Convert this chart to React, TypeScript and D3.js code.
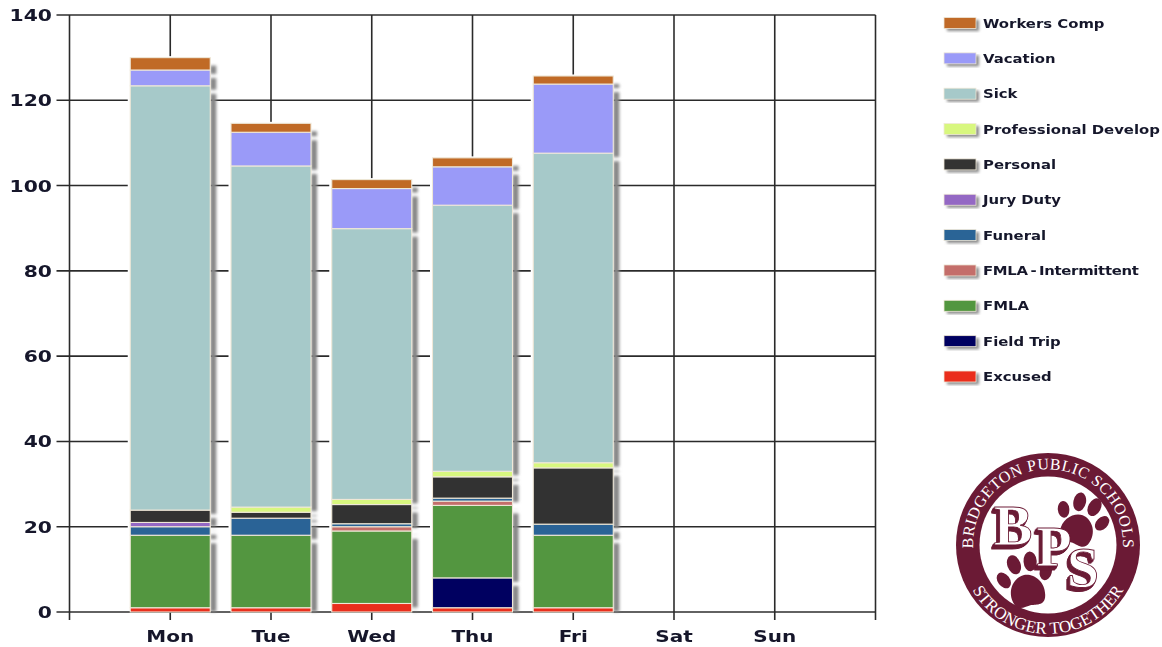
import React, { useEffect, useRef } from 'react';
import * as d3 from 'd3';

const DAYS = ['Mon', 'Tue', 'Wed', 'Thu', 'Fri', 'Sat', 'Sun'];
const Y_TICKS = [0, 20, 40, 60, 80, 100, 120, 140];

// values by day, Mon..Fri, bottom of the stack first
const EXCUSED = [1, 1, 2, 1, 1];
const FIELD_TRIP = [0, 0, 0, 7, 0];
const FMLA = [17, 17, 17, 17, 17];
const FMLA_INT = [0, 0, 1, 1, 0];
const FUNERAL = [2, 4, 0.7, 0.7, 2.6];
const JURY = [1, 0, 0, 0, 0];
const PERSONAL = [2.9, 1.4, 4.5, 5, 13.2];
const PROF_DEV = [0, 1.2, 1.2, 1.3, 1.2];
const SICK = [99.5, 80, 63.5, 62.4, 72.6];
const VACATION = [3.7, 7.9, 9.4, 9, 16.2];
const WORKERS_COMP = [2.9, 2.1, 2.1, 2.1, 1.9];

const SERIES = ['Excused', 'Field Trip', 'FMLA', 'FMLA - Intermittent', 'Funeral', 'Jury Duty', 'Personal', 'Professional Develop', 'Sick', 'Vacation', 'Workers Comp'];
const VALUES = [EXCUSED, FIELD_TRIP, FMLA, FMLA_INT, FUNERAL, JURY, PERSONAL, PROF_DEV, SICK, VACATION, WORKERS_COMP];
const COLORS = ['#EA2E1C', '#000060', '#52963F', '#C46E6A', '#2A6496', '#9468C4', '#333333', '#D8F77F', '#A6C9C9', '#9A9AF8', '#C06A28'];

const LEFT = 69.5;
const RIGHT = 875.5;
const TOP = 15;
const BOTTOM = 612;
const BAR_W = 80;
const MAROON = '#6B1A35';
const TEXT = '#15182c';
const FONT = '"DejaVu Sans", sans-serif';

const App = () => {
    const ref = useRef<SVGSVGElement>(null);

    useEffect(() => {
        const svg = d3.select(ref.current);
        svg.selectAll('*').remove();

        const defs = svg.append('defs');
        defs.append('filter').attr('id', 'shadow').attr('x', '-60%').attr('width', '220%')
            .append('feGaussianBlur').attr('stdDeviation', 1.7);
        defs.append('filter').attr('id', 'soft')
            .append('feGaussianBlur').attr('stdDeviation', 0.35);

        // block letter extrusion for the logo, one text per letter
        const extrude = defs.append('filter').attr('id', 'extrude')
            .attr('x', '-30%').attr('y', '-30%').attr('width', '160%').attr('height', '160%');
        extrude.append('feFlood').attr('flood-color', MAROON).attr('result', 'ink');
        const depths = [1, 2, 3, 4, 5];
        depths.forEach((o) => {
            extrude.append('feOffset').attr('in', 'SourceAlpha').attr('dx', -o * 0.6).attr('dy', o * 0.8).attr('result', 'off' + o);
            extrude.append('feComposite').attr('in', 'ink').attr('in2', 'off' + o).attr('operator', 'in').attr('result', 'side' + o);
        });
        const merge = extrude.append('feMerge');
        depths.forEach((o) => merge.append('feMergeNode').attr('in', 'side' + o));
        merge.append('feMergeNode').attr('in', 'SourceGraphic');

        const xScale = d3.scaleLinear().domain([0, 8]).range([LEFT, RIGHT]);
        const yScale = d3.scaleLinear().domain([0, 140]).range([BOTTOM, TOP]);

        const rows = DAYS.slice(0, 5).map((day, i) => {
            const row: any = { day: i + 1 };
            SERIES.forEach((s, k) => { row[s] = VALUES[k][i]; });
            return row;
        });
        const stacked = d3.stack().keys(SERIES)(rows);
        const topLayer: any = stacked[stacked.length - 1];

        // grid + axes
        const grid = svg.append('g').attr('filter', 'url(#soft)');
        const xAxis = d3.axisBottom(xScale)
            .offset(0)
            .tickValues(d3.range(0, 9))
            .tickSize(BOTTOM - TOP + 8)
            .tickFormat(() => '');
        const xG = grid.append('g')
            .attr('transform', 'translate(0,' + TOP + ')')
            .call(xAxis as any);
        const yAxis = d3.axisLeft(yScale)
            .offset(0)
            .tickValues(Y_TICKS)
            .tickSize(RIGHT - LEFT + 13)
            .tickFormat(() => '');
        const yG = grid.append('g')
            .attr('transform', 'translate(' + RIGHT + ',0)')
            .call(yAxis as any);
        [xG, yG].forEach((g) => {
            g.select('.domain').remove();
            g.selectAll('line').attr('stroke', '#2b2b2b').attr('stroke-width', 1.6);
        });

        // the grid stops a little short of each bar
        svg.append('g').selectAll('rect')
            .data(topLayer)
            .enter().append('rect')
            .attr('x', (d: any) => xScale(d.data.day) - BAR_W / 2 - 2.5)
            .attr('y', (d: any) => yScale(d[1]) - 1.5)
            .attr('width', BAR_W + 2.5)
            .attr('height', (d: any) => BOTTOM - 1 - yScale(d[1]) + 1.5)
            .attr('fill', '#fff');

        // segment shadows
        const shadows = svg.append('g').attr('filter', 'url(#shadow)');
        stacked.forEach((layer: any) => {
            layer.forEach((d: any) => {
                if (d[1] - d[0] <= 0) return;
                const top = yScale(d[1]) + 8;
                const bottom = Math.min(yScale(d[0]) + 4, BOTTOM);
                if (bottom <= top) return;
                shadows.append('rect')
                    .attr('x', xScale(d.data.day) + BAR_W / 2)
                    .attr('y', top)
                    .attr('width', 6)
                    .attr('height', bottom - top)
                    .attr('fill', '#858585');
            });
        });

        // bars
        const bars = svg.append('g').attr('filter', 'url(#soft)');
        stacked.forEach((layer: any, k: number) => {
            bars.append('g').selectAll('rect')
                .data(layer.filter((d: any) => d[1] - d[0] > 0))
                .enter().append('rect')
                .attr('x', (d: any) => xScale(d.data.day) - BAR_W / 2)
                .attr('y', (d: any) => yScale(d[1]))
                .attr('width', BAR_W)
                .attr('height', (d: any) => yScale(d[0]) - yScale(d[1]))
                .attr('fill', COLORS[k])
                .attr('stroke', '#EFE8D8')
                .attr('stroke-width', 1.1);
        });

        // axis labels
        const labels = svg.append('g').attr('filter', 'url(#soft)')
            .style('font-family', FONT).style('font-weight', 'bold').attr('fill', TEXT);
        labels.selectAll('.ylab').data(Y_TICKS).enter().append('text')
            .attr('text-anchor', 'end')
            .attr('transform', (d) => 'translate(52,' + (yScale(d) + 6) + ') scale(1.27,1)')
            .style('font-size', '16px')
            .text((d) => d);
        labels.selectAll('.xlab').data(DAYS).enter().append('text')
            .attr('text-anchor', 'middle')
            .attr('transform', (d, i) => 'translate(' + xScale(i + 1) + ',642) scale(1.25,1)')
            .style('font-size', '16px')
            .text((d) => d);

        // legend, top entry is the last series
        const legendY = d3.scaleLinear().domain([0, 10]).range([23, 376.5]);
        const legend = svg.append('g');
        [...SERIES].reverse().forEach((name, i) => {
            const color = COLORS[SERIES.length - 1 - i];
            const y = legendY(i);
            const tight = name === 'FMLA - Intermittent';
            legend.append('rect').attr('x', 947).attr('y', y - 3).attr('width', 32).attr('height', 11)
                .attr('fill', '#8a8a8a').attr('filter', 'url(#shadow)');
            legend.append('rect').attr('x', 944).attr('y', y - 5.5).attr('width', 32).attr('height', 11)
                .attr('fill', color).attr('stroke', '#EFE8D8').attr('stroke-width', 0.8);
            legend.append('text')
                .attr('transform', 'translate(983,' + (y + 4.5) + ') scale(1.19,1)')
                .attr('filter', 'url(#soft)')
                .attr('fill', TEXT)
                .style('font-family', FONT).style('font-weight', 'bold').style('font-size', '12.5px')
                .style('word-spacing', tight ? '-1.8px' : '0')
                .style('letter-spacing', tight ? '-0.25px' : '0')
                .text(name);
        });

        // logo
        const logo = svg.append('g').attr('transform', 'translate(1048,545)');
        logo.append('circle').attr('r', 92).attr('fill', MAROON);
        logo.append('circle').attr('r', 68.5).attr('fill', '#fff');
        defs.append('path').attr('id', 'arcTop').attr('d', 'M -71.5 22 A 75 75 0 1 1 71.5 22');
        defs.append('path').attr('id', 'arcBottom').attr('d', 'M -83 28 A 87 87 0 0 0 83 28');
        const serif = '"Liberation Serif", serif';
        logo.append('text').attr('fill', '#fff').style('font-family', serif).style('font-size', '16px').style('letter-spacing', '0.55px')
            .append('textPath').attr('href', '#arcTop').attr('startOffset', '50%').attr('text-anchor', 'middle')
            .text('BRIDGETON PUBLIC SCHOOLS');
        logo.append('text').attr('fill', '#fff').style('font-family', serif).style('font-size', '17px')
            .append('textPath').attr('href', '#arcBottom').attr('startOffset', '50%').attr('text-anchor', 'middle')
            .text('STRONGER TOGETHER');

        const paw = (cx: number, cy: number, rot: number, k: number) => {
            const g = logo.append('g').attr('transform', 'translate(' + cx + ',' + cy + ') rotate(' + rot + ') scale(' + k + ')').attr('fill', MAROON);
            g.append('path').attr('d', 'M -15 9 C -18 -4 -8 -13 0 -13 C 8 -13 18 -4 15 9 C 13 19 4 15 0 15 C -4 15 -13 19 -15 9 Z');
            g.append('ellipse').attr('cx', -19).attr('cy', -12).attr('rx', 5.5).attr('ry', 8).attr('transform', 'rotate(-25 -19 -12)');
            g.append('ellipse').attr('cx', -7).attr('cy', -24).attr('rx', 6).attr('ry', 9).attr('transform', 'rotate(-8 -7 -24)');
            g.append('ellipse').attr('cx', 8).attr('cy', -24).attr('rx', 6).attr('ry', 9).attr('transform', 'rotate(8 8 -24)');
            g.append('ellipse').attr('cx', 20).attr('cy', -12).attr('rx', 5.5).attr('ry', 8).attr('transform', 'rotate(25 20 -12)');
        };
        paw(30, -17, 20, 1.05);
        paw(-21, 44, -12, 1.1);

        const letter = (t: string, x: number, y: number) => {
            logo.append('text')
                .attr('x', x).attr('y', y)
                .attr('text-anchor', 'middle')
                .attr('filter', 'url(#extrude)')
                .attr('fill', '#fff').attr('stroke', MAROON).attr('stroke-width', 0.9)
                .style('font-family', serif).style('font-weight', 'bold').style('font-size', '58px')
                .text(t);
        };
        letter('B', -35, 0);
        letter('P', 6, 21);
        letter('S', 35, 42);
    }, []);

    return <svg ref={ref} width={1162} height={647} style={{ position: 'absolute', left: 0, top: 0, display: 'block', background: '#fff' }} />;
};

export default App;
